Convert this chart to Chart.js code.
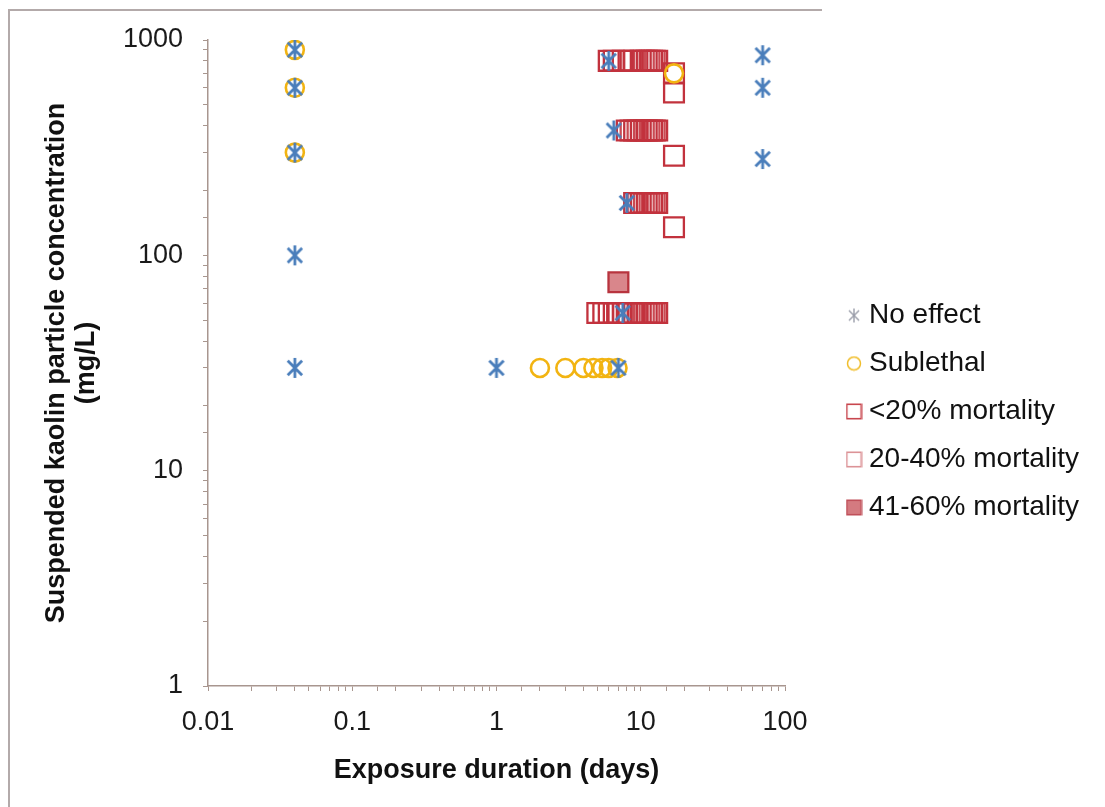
<!DOCTYPE html>
<html>
<head>
<meta charset="utf-8">
<style>
  html, body { margin: 0; padding: 0; background: #fff; }
  #wrap { position: relative; width: 1105px; height: 807px; }
</style>
<script src="https://cdn.jsdelivr.net/npm/chart.js@4.4.1/dist/chart.umd.min.js"></script>
</head>
<body>
<div id="wrap"><canvas id="c" width="1105" height="807"></canvas></div>
<script>
// ---- data ----
const seriesNames = ["No effect", "Sublethal", "<20% mortality", "20-40% mortality", "41-60% mortality"];

const noEffectX = [0.04, 0.04, 0.04, 0.04, 0.04, 1, 7, 6, 6.5, 8, 7.5, 70, 70, 70];
const noEffectY = [900, 600, 300, 100, 30, 30, 30, 800, 380, 175, 54, 850, 600, 280];

const sublethalX = [0.04, 0.04, 0.04, 2, 3, 4, 4.7, 5.4, 6, 6.9, 17];
const sublethalY = [900, 600, 300, 30, 30, 30, 30, 30, 30, 30, 700];

const lt20X = [6, 6.5, 7.5, 8.5, 10, 11, 12, 13,
               8, 9, 10, 11, 12, 13,
               9, 10, 11, 12, 13,
               5, 5.5, 6, 6.5, 7, 8, 9, 10, 11, 12, 13,
               17, 17, 17, 17];
const lt20Y = [800, 800, 800, 800, 800, 800, 800, 800,
               380, 380, 380, 380, 380, 380,
               175, 175, 175, 175, 175,
               54, 54, 54, 54, 54, 54, 54, 54, 54, 54, 54,
               700, 570, 290, 135];

const m2040X = [9, 10.5, 11.5, 12.5,
                8.5, 9.5, 10.5, 11.5, 12.5,
                9.5, 10.5, 11.5, 12.5,
                7.5, 9.5, 10.5, 11.5, 12.5];
const m2040Y = [800, 800, 800, 800,
                380, 380, 380, 380, 380,
                175, 175, 175, 175,
                54, 54, 54, 54, 54];

const m4160X = [7];
const m4160Y = [75];

const xTickLabels = [0.01, 0.1, 1, 10, 100];
const yTickLabels = [1, 10, 100, 1000];

// ---- helpers ----
const FONT = "'Liberation Sans', Arial, 'DejaVu Sans', sans-serif";
const toPts = (xs, ys) => xs.map((x, i) => ({ x: x, y: ys[i] }));

function mk(size) {
  const c = document.createElement('canvas');
  c.width = size; c.height = size;
  return [c, c.getContext('2d')];
}
function asterisk(size, color, lw) {
  const [c, g] = mk(size);
  g.strokeStyle = color; g.lineWidth = lw;
  const m = size / 2, r = size / 2 - 1;
  const d = r * 0.72;
  g.beginPath();
  g.moveTo(m, m - r); g.lineTo(m, m + r);
  g.moveTo(m - d, m - d); g.lineTo(m + d, m + d);
  g.moveTo(m + d, m - d); g.lineTo(m - d, m + d);
  g.stroke();
  return c;
}
function circleIcon(size, color, lw) {
  const [c, g] = mk(size);
  g.strokeStyle = color; g.lineWidth = lw;
  g.beginPath(); g.arc(size / 2, size / 2, size / 2 - lw, 0, Math.PI * 2); g.stroke();
  return c;
}
function squareIcon(size, stroke, fill, lw) {
  const [c, g] = mk(size);
  const o = lw / 2 + 0.5;
  if (fill) { g.fillStyle = fill; g.fillRect(o, o, size - 2 * o, size - 2 * o); }
  g.strokeStyle = stroke; g.lineWidth = lw;
  g.strokeRect(o, o, size - 2 * o, size - 2 * o);
  return c;
}

const blueStar = asterisk(22, 'rgb(74,126,187)', 2.8);
const legendIcons = [
  asterisk(16, 'rgb(155,158,170)', 1.4),
  circleIcon(16, '#f0bd2a', 1.5),
  squareIcon(17, '#c8464e', null, 1.6),
  squareIcon(17, '#dc9397', null, 1.6),
  squareIcon(17, '#c0505a', '#d47a80', 1.6)
];

const axisColor = '#a8968f';

const framePlugin = {
  id: 'frame',
  beforeDraw(chart) {
    const ctx = chart.ctx;
    ctx.save();
    ctx.strokeStyle = '#b3aaaa';
    ctx.lineWidth = 2;
    ctx.beginPath();
    ctx.moveTo(9, 807); ctx.lineTo(9, 10); ctx.lineTo(822, 10);
    ctx.stroke();
    ctx.restore();
  }
};
// fixes the room the legend takes, then places it
const legendPlace = {
  id: 'legendPlace',
  beforeLayout(chart) {
    const lg = chart.legend;
    if (lg && !lg.__fixed) {
      const f = lg.fit;
      lg.fit = function () { f.call(this); this.width = 320; };
      lg.__fixed = true;
    }
  },
  afterLayout(chart) {
    const lg = chart.legend;
    if (!lg) return;
    const dx = 833 - lg.left;
    lg.left += dx; lg.right += dx;
    lg.top -= 7; lg.bottom -= 7;
  }
};

const datasets = [
  { label: seriesNames[0], data: toPts(noEffectX, noEffectY), pointStyle: blueStar,
    borderColor: 'rgb(74,126,187)', backgroundColor: 'rgba(0,0,0,0)', pointRadius: 11 },
  { label: seriesNames[1], data: toPts(sublethalX, sublethalY), pointStyle: 'circle',
    borderColor: '#f2b412', backgroundColor: 'rgba(0,0,0,0)', pointRadius: 9, borderWidth: 2.6 },
  { label: seriesNames[2], data: toPts(lt20X, lt20Y), pointStyle: 'rect',
    borderColor: '#c2323d', backgroundColor: 'rgba(0,0,0,0)', pointRadius: 14, borderWidth: 2.3 },
  { label: seriesNames[3], data: toPts(m2040X, m2040Y), pointStyle: 'rect',
    borderColor: '#c94a53', backgroundColor: 'rgba(0,0,0,0)', pointRadius: 14, borderWidth: 2.3 },
  { label: seriesNames[4], data: toPts(m4160X, m4160Y), pointStyle: 'rect',
    borderColor: '#b8343e', backgroundColor: '#d9868b', pointRadius: 14, borderWidth: 2.3 }
];

new Chart(document.getElementById('c'), {
  type: 'scatter',
  data: { datasets },
  plugins: [framePlugin, legendPlace],
  options: {
    responsive: false,
    animation: false,
    events: [],
    layout: { padding: { left: 8, top: 40, right: 0, bottom: 10 } },
    plugins: {
      tooltip: { enabled: false },
      legend: {
        position: 'right',
        align: 'center',
        labels: {
          usePointStyle: true,
          boxWidth: 2, boxHeight: 15,
          padding: 20,
          color: '#111',
          font: { family: FONT, size: 28 },
          generateLabels(chart) {
            const items = Chart.defaults.plugins.legend.labels.generateLabels(chart);
            items.forEach(it => { it.pointStyle = legendIcons[it.datasetIndex]; });
            return items;
          }
        }
      }
    },
    scales: {
      x: {
        type: 'logarithmic',
        min: 0.01, max: 100,
        afterFit(s) { s.height = 111; },
        border: { color: axisColor, width: 1.5 },
        grid: { drawOnChartArea: false, drawTicks: true, tickLength: 5, color: axisColor, tickColor: axisColor },
        ticks: {
          autoSkip: false, maxRotation: 0, padding: 15,
          color: '#1a1a1a',
          font: { family: FONT, size: 27 },
          callback(v) { return xTickLabels.includes(Number(v.toPrecision(6))) ? String(Number(v.toPrecision(6))) : ''; }
        },
        title: {
          display: true, text: 'Exposure duration (days)',
          color: '#111',
          font: { family: FONT, size: 27, weight: 'bold', lineHeight: 1.1 },
          padding: { top: 0, bottom: 12 }
        }
      },
      y: {
        type: 'logarithmic',
        min: 1, max: 1000,
        afterFit(s) { s.width = 200; },
        border: { color: axisColor, width: 1.5 },
        grid: { drawOnChartArea: false, drawTicks: true, tickLength: 5, color: axisColor, tickColor: axisColor },
        ticks: {
          autoSkip: false, padding: 20,
          color: '#1a1a1a',
          font: { family: FONT, size: 27 },
          callback(v) { return yTickLabels.includes(Number(v.toPrecision(6))) ? String(Number(v.toPrecision(6))) : ''; }
        },
        title: {
          display: true, text: ['Suspended kaolin particle concentration', '(mg/L)'],
          color: '#111',
          font: { family: FONT, size: 27, weight: 'bold', lineHeight: 1.11 },
          padding: { top: 34, bottom: 0 }
        }
      }
    }
  }
});
</script>
</body>
</html>
